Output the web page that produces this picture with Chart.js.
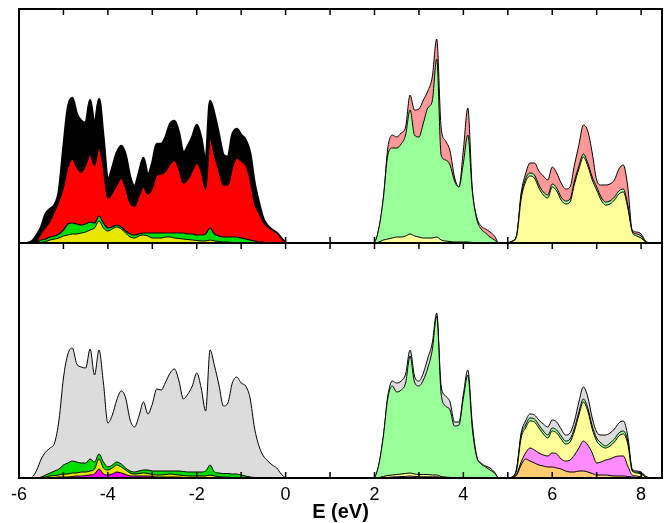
<!DOCTYPE html>
<html>
<head>
<meta charset="utf-8">
<script src="https://cdn.jsdelivr.net/npm/chart.js@4.4.0/dist/chart.umd.min.js"></script>
<style>
  html, body { margin: 0; padding: 0; background: #fff; }
  #wrap { position: relative; width: 670px; height: 523px; }
  #wrap canvas { position: absolute; left: 0; }
  #topChart { top: 0; }
  #botChart { top: 240px; }
</style>
</head>
<body>
<div id="wrap">
  <canvas id="topChart" width="670" height="246"></canvas>
  <canvas id="botChart" width="670" height="283"></canvas>
</div>
<script>
// --- energy grids (eV) for the three bands ---
const E1 = [-5.8,-5.7,-5.6,-5.5,-5.4,-5.3,-5.2,-5.1,-5.0,-4.9,
            -4.8,-4.7,-4.6,-4.5,-4.4,-4.3,-4.2,-4.1,-4.0,-3.9,
            -3.8,-3.7,-3.6,-3.5,-3.4,-3.3,-3.2,-3.1,-3.0,-2.9,
            -2.8,-2.7,-2.6,-2.5,-2.4,-2.3,-2.2,-2.1,-2.0,-1.9,
            -1.8,-1.7,-1.6,-1.5,-1.4,-1.3,-1.2,-1.1,-1.0,-0.9,
            -0.8,-0.7,-0.6,-0.5,-0.4,-0.3,-0.2,-0.1,0.0];
const E2 = [1.9,2.0,2.1,2.2,2.3,2.4,2.5,2.6,2.7,2.8,
            2.9,3.0,3.1,3.2,3.3,3.4,3.5,3.6,3.7,3.8,
            3.9,4.0,4.1,4.2,4.3,4.4,4.5,4.6,4.7,4.8,4.9];
const E3 = [5.0,5.1,5.2,5.3,5.4,5.5,5.6,5.7,5.8,5.9,
            6.0,6.1,6.2,6.3,6.4,6.5,6.6,6.7,6.8,6.9,
            7.0,7.1,7.2,7.3,7.4,7.5,7.6,7.7,7.8,7.9,
            8.0,8.1,8.2];

// x axis ticks
const xTickValues = [-6,-5,-4,-3,-2,-1,0,1,2,3,4,5,6,7,8];
const xTickLabels = ['-6','','-4','','-2','','0','','2','','4','','6','','8'];

// --- upper panel: cumulative (stacked) DOS, arbitrary units ---
const t1Yellow = [0,0,0,0.5,1.5,3,4,5,7,8,
                  9,9,10,11,13,15,22,15,12,14,
                  16,14,10,6,5,7,8,7,5,5,
                  5,6,6,5,4.5,4,3.5,3,2.5,2,
                  2,3,2,1.5,1,1,0.5,0.5,0,0,
                  0,0,0,0,0,0,0,0,0];
const t1Green  = [0,0,1,3,4,6,7,9,13,19,
                  20,19,18,19,21,20,27,20,15,16,
                  18,16,12,9,8,9,10,10,10,10,
                  10,10,10,10,10,10,9,9,8,8,
                  9,15,9,7,6,6,6,6,5,4,
                  3,2,1,1,0,0,0,0,0];
const t1Red    = [0,0,2,10,16,22,32,42,56,76,
                  84,76,71,78,88,78,95,75,45,50,
                  58,65,55,40,37,47,56,49,55,68,
                  69,72,79,83,74,60,64,72,80,72,
                  54,104,88,72,58,58,75,85,82,78,
                  64,40,30,21,16,13,10,5,0];
const t1Black  = [0,2,8,16,29,34,38,52,95,135,
                  145,129,122,120,143,118,144,105,63,75,
                  90,97,88,66,57,70,85,68,80,99,
                  99,106,119,122,110,90,97,106,118,105,
                  82,142,128,108,88,86,108,114,108,103,
                  90,60,40,24,17,13,10,5,0];

const t2Yellow = [0,0,1,3,4,5,6,6,7,9,
                  7,6,5,5,5,6,3,2,1.5,1,
                  1,1,1,0.5,0,0,0,0,0,0,0];
const t2Green  = [0,1,15,45,88,95,95,99,108,133,
                  108,106,120,135,142,184,88,83,78,62,
                  56,80,108,52,24,14,10,6,3,0,0];
const t2Red    = [0,1,15,45,95,108,106,110,116,148,
                  133,134,143,152,166,204,115,102,92,66,
                  56,93,135,55,26,17,14,11,7,0,0];

const t3Yellow = [0,1.5,7,44,61,67,65,55,48,45,
                  56,52,43,39,41,59,74,86,77,63,
                  53,43,38,39,43,49,51,35,11,7,
                  5,1,0];
const t3Green  = [0,2,8,47,64,70,68,58,51,48,
                  59,55,46,42,44,62,77,89,80,66,
                  56,46,41,42,46,52,54,38,12,9,
                  7,1,0];
const t3Red    = [0,2,8,50,69,80,80,72,67,63,
                  76,70,60,54,56,78,98,118,112,90,
                  63,58,58,59,63,74,78,56,13,11,
                  9,2,0];

// --- lower panel: cumulative (stacked) DOS ---
const b1Magenta = [0,0,0,0,0,0.3,0.5,1,1,1,
                   1.5,2,2,2.5,3,4,9,4,3,4,
                   6,5,3.5,2,2,2,2,2,1.5,1,
                   1,1,1,1,0.8,0.6,0.5,0.4,0.3,0.2,
                   0.2,0.3,0.2,0.1,0,0,0,0,0,0,
                   0,0,0,0,0,0,0,0,0];
const b1Yellow  = [0,0,0,0.5,1,2,2.5,3,4,4,
                   5,5,6,6,7,9,19,10,8,10,
                   13,11,8,5,4,4.5,5,4.5,3.5,3,
                   3,3.5,4,3.5,3,2.5,2,2,2,2,
                   2,3,2,1.5,1,1,0.5,0.5,0,0,
                   0,0,0,0,0,0,0,0,0];
const b1Green   = [0,0,0,1,3,5,7,9,13,15,
                   17,16,15,15,19,16,24,16,11,13,
                   16,14,10,7,6,7,8,8,7,7,
                   7,7,7,7,7,6.5,6,6,6,6,
                   7,13,6,5,4.5,4.5,4,4,3,2,
                   1,0.5,0,0,0,0,0,0,0];
const b1Grey    = [0,1,8,19,26,30,35,58,100,124,
                   130,114,111,110,129,103,128,95,55,63,
                   78,87,80,58,51,62,76,64,74,89,
                   88,96,105,109,97,79,84,92,105,90,
                   67,128,112,93,72,75,95,101,95,92,
                   80,50,32,22,17,13,10,4,0];

const b2Magenta = [0,0,0,0.3,0.6,1,1.2,1.4,1.6,2,
                   1.6,1.3,1.2,1.2,1.1,1.2,0.5,0.2,0,0,
                   0,0,0,0,0,0,0,0,0,0,0];
const b2Yellow  = [0,0,0.5,1.5,2.5,3,3.5,4,4.5,5,
                   4,3.5,3.5,3.5,3,3,1.5,1,0.5,0.3,
                   0.3,0.3,0.3,0,0,0,0,0,0,0,0];
const b2Green   = [0,1,14,42,80,92,86,88,95,122,
                   96,92,98,110,128,162,84,72,68,52,
                   53,80,103,50,21,14,11,8,5,0,0];
const b2Grey    = [0,1,14,42,82,97,95,97,104,128,
                   102,97,105,120,135,165,92,82,76,56,
                   56,84,108,55,22,15,12,10,6,0,0];

const b3Orange  = [0,0.5,3,13,19,17,15,13,12,11,
                   11,10,9,7,6,6,7,7,6,4.5,
                   3,3,3,2.5,2,2,2,1.5,1,0.5,
                   0,0,0];
const b3Magenta = [0,0.5,4,16,25,30,28,25,23,22,
                   25,24,19,17,18,23,30,37,33,25,
                   15,16,18,19,21,22,22,12,3,2,
                   1,0,0];
const b3Yellow  = [0,1,8,40,50,57,56,50,44,40,
                   47,45,39,34,36,47,63,76,67,49,
                   37,32,30,32,36,42,44,34,7,5,
                   4,1,0];
const b3Green   = [0,1,9,43,53,60,59,53,47,43,
                   50,48,42,37,39,50,66,79,70,52,
                   40,35,32,35,39,45,47,37,8,6,
                   5,1,0];
const b3Grey    = [0,1,10,45,57,64,63,58,54,51,
                   58,56,49,43,45,57,76,91,81,60,
                   46,43,43,45,49,55,57,42,9,7,
                   6,2,0];

// colores
const C = {
  yellow: '#e6e600', green: '#00dd00', red: '#ff0000', black: '#000000', magenta: '#ff00ff',
  lyellow: '#ffff99', lgreen: '#99ff99', lred: '#ff9999', grey: '#dcdcdc',
  lmagenta: '#ff8cff', orange: '#ffcc70'
};

Chart.defaults.font.family = "'Liberation Sans', Arial, sans-serif";
Chart.defaults.color = '#000';

// one stacked layer: filled from zero up to its cumulative curve
function layer(xs, ys, color, lw) {
  return {
    data: xs.map((x, i) => ({ x: x, y: ys[i] })),
    backgroundColor: color,
    borderColor: '#000',
    borderWidth: lw || 1,
    fill: 'origin',
    pointRadius: 0,
    cubicInterpolationMode: 'monotone'
  };
}

// marco + ticks hacia adentro
function drawTicks(chart, where) {
  const { ctx, chartArea: a, scales: { x } } = chart;
  ctx.save();
  ctx.strokeStyle = '#000';
  ctx.lineWidth = 1.5;
  ctx.beginPath();
  xTickValues.forEach(v => {
    const px = x.getPixelForValue(v);
    if (where === 'top') { ctx.moveTo(px, a.top); ctx.lineTo(px, a.top + 6); }
    if (where === 'bottom') { ctx.moveTo(px, a.bottom); ctx.lineTo(px, a.bottom - 6); }
  });
  ctx.stroke();
  ctx.restore();
}

const frameTicks = {
  id: 'frameTicks',
  beforeDatasetsDraw(chart, args, opts) {
    (opts.under || []).forEach(w => drawTicks(chart, w));
  },
  afterDatasetsDraw(chart, args, opts) {
    (opts.over || []).forEach(w => drawTicks(chart, w));
    const { ctx, chartArea: a } = chart;
    ctx.save();
    ctx.strokeStyle = '#000';
    ctx.lineWidth = 2;
    ctx.strokeRect(a.left, a.top, a.right - a.left, a.bottom - a.top);
    ctx.restore();
  }
};

function baseOptions(yMax, padding) {
  return {
    responsive: false,
    animation: false,
    devicePixelRatio: 1,
    events: [],
    layout: { padding: padding },
    plugins: { legend: { display: false }, tooltip: { enabled: false } },
    scales: {
      x: { type: 'linear', min: -6, max: 8.47, display: false },
      y: { min: 0, max: yMax, display: false }
    }
  };
}

// 1. PANEL SUPERIOR
const topOpts = baseOptions(234, { left: 19, right: 8, top: 9, bottom: 3 });
topOpts.plugins.frameTicks = { over: ['top'], under: ['bottom'] };
new Chart(document.getElementById('topChart'), {
  type: 'line',
  data: {
    datasets: [
      layer(E1, t1Yellow, C.yellow, 1),
      layer(E1, t1Green, C.green, 1.2),
      layer(E1, t1Red, C.red, 1.5),
      layer(E1, t1Black, C.black, 2.5),
      layer(E2, t2Yellow, C.lyellow, 1),
      layer(E2, t2Green, C.lgreen, 1),
      layer(E2, t2Red, C.lred, 1),
      layer(E3, t3Yellow, C.lyellow, 1),
      layer(E3, t3Green, C.lgreen, 1),
      layer(E3, t3Red, C.lred, 1)
    ]
  },
  options: topOpts,
  plugins: [frameTicks]
});

// 2. PANEL INFERIOR
const botOpts = baseOptions(235, { left: 19, right: 8, top: 3, bottom: 0 });
botOpts.plugins.frameTicks = { over: ['top', 'bottom'] };
botOpts.scales.x = {
  type: 'linear', min: -6, max: 8.47, display: true,
  grid: { display: false, drawTicks: false },
  border: { display: false },
  afterBuildTicks: scale => { scale.ticks = xTickValues.map(v => ({ value: v })); },
  afterFit: scale => { scale.height = 45; },
  ticks: {
    autoSkip: false, maxRotation: 0, padding: 6,
    font: { size: 18 },
    callback: (v, i) => xTickLabels[i]
  },
  title: {
    display: true, text: 'E (eV)',
    font: { size: 20, weight: 'bold', lineHeight: 1 },
    padding: { top: 0, bottom: 1 }
  }
};
new Chart(document.getElementById('botChart'), {
  type: 'line',
  data: {
    datasets: [
      layer(E1, b1Magenta, C.magenta, 1),
      layer(E1, b1Yellow, C.yellow, 1),
      layer(E1, b1Green, C.green, 1),
      layer(E1, b1Grey, C.grey, 1),
      layer(E2, b2Magenta, C.lmagenta, 1),
      layer(E2, b2Yellow, C.lyellow, 1),
      layer(E2, b2Green, C.lgreen, 1),
      layer(E2, b2Grey, C.grey, 1),
      layer(E3, b3Orange, C.orange, 1),
      layer(E3, b3Magenta, C.lmagenta, 1),
      layer(E3, b3Yellow, C.lyellow, 1),
      layer(E3, b3Green, C.lgreen, 1),
      layer(E3, b3Grey, C.grey, 1)
    ]
  },
  options: botOpts,
  plugins: [frameTicks]
});
</script>
</body>
</html>
